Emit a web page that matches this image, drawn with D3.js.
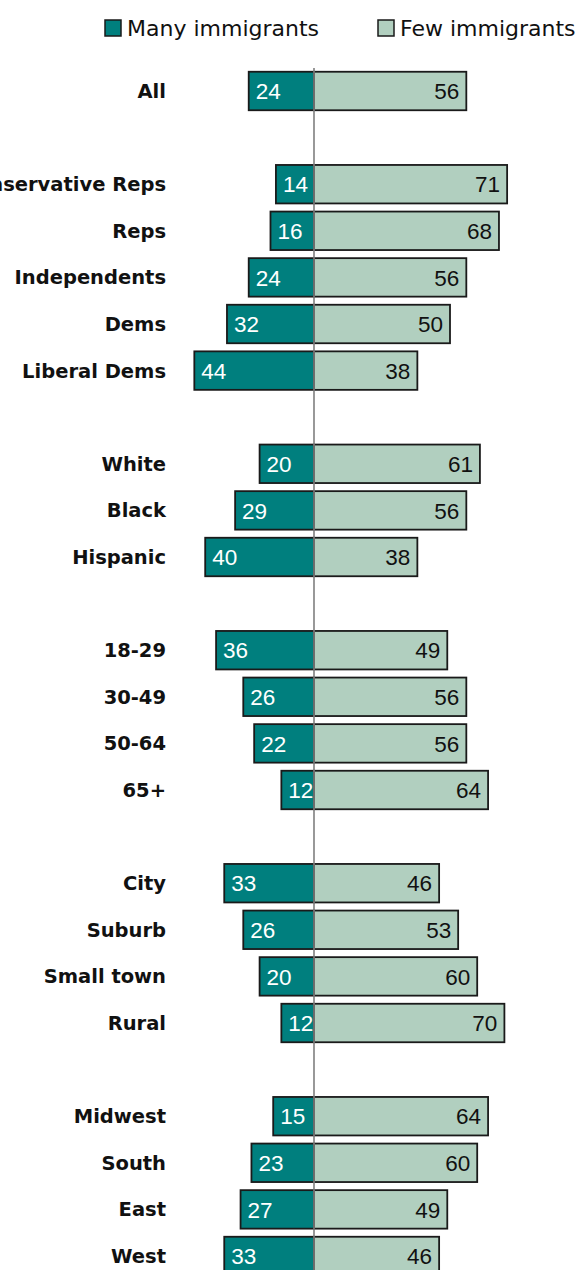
<!DOCTYPE html>
<html>
<head>
<meta charset="utf-8">
<script src="https://cdn.jsdelivr.net/npm/d3@7"></script>
<style>
html,body{margin:0;padding:0;background:#fff;overflow:hidden;}
svg{display:block;}
</style>
</head>
<body>
<svg id="chart" width="582" height="1270"></svg>
<script>
// Row slots, "" = blank spacer row between groups
const categories = ["All","",
  "Conservative Reps","Reps","Independents","Dems","Liberal Dems","",
  "White","Black","Hispanic","",
  "18-29","30-49","50-64","65+","",
  "City","Suburb","Small town","Rural","",
  "Midwest","South","East","West"];
const manyValues = [24,null,14,16,24,32,44,null,20,29,40,null,36,26,22,12,null,33,26,20,12,null,15,23,27,33];
const fewValues  = [56,null,71,68,56,50,38,null,61,56,38,null,49,56,56,64,null,46,53,60,70,null,64,60,49,46];
const seriesNames = ["Many immigrants","Few immigrants"];

const W = 582, H = 1270;
const colMany = "#007f7e", colFew = "#b1cfbf", stroke = "#1a1a1a";
const svg = d3.select("#chart");

const slots = categories.map((c,i)=>i);
const step = 46.6, top0 = 67.7;
const y = d3.scaleBand().domain(slots).range([top0, top0 + step*slots.length])
  .paddingInner(0.174).paddingOuter(0.087);
const x0 = 314, k = 2.72;
const x = d3.scaleLinear().domain([-50, 100]).range([x0 - 50*k, x0 + 100*k]);

const rows = categories.map((c,i)=>({i, c, many: manyValues[i], few: fewValues[i]})).filter(d=>d.c!=="");

const valFont = "'Liberation Sans', Arial, sans-serif";
const labFont = "'DejaVu Sans', sans-serif";

// category labels
svg.append("g").selectAll("text").data(rows).join("text")
  .attr("x", 166).attr("y", d=>y(d.i)+y.bandwidth()/2)
  .attr("dy","0.36em").attr("text-anchor","end")
  .attr("font-family", labFont).attr("font-weight","bold").attr("font-size", 19.5)
  .attr("fill","#111").text(d=>d.c);

// many bars
svg.append("g").selectAll("rect").data(rows).join("rect")
  .attr("x", d=>x(-d.many)).attr("y", d=>y(d.i))
  .attr("width", d=>x(0)-x(-d.many)).attr("height", y.bandwidth())
  .attr("fill", colMany).attr("stroke", stroke).attr("stroke-width", 1.8);
// few bars
svg.append("g").selectAll("rect").data(rows).join("rect")
  .attr("x", x(0)).attr("y", d=>y(d.i))
  .attr("width", d=>x(d.few)-x(0)).attr("height", y.bandwidth())
  .attr("fill", colFew).attr("stroke", stroke).attr("stroke-width", 1.8);

// center line
svg.append("line").attr("x1", x(0)).attr("x2", x(0)).attr("y1", 68).attr("y2", H)
  .attr("stroke","#7f7f7f").attr("stroke-width",1.6);

// values
svg.append("g").selectAll("text").data(rows).join("text")
  .attr("x", d=>x(-d.many)+7).attr("y", d=>y(d.i)+y.bandwidth()/2)
  .attr("dy","0.36em").attr("font-family", valFont).attr("font-size", 22.5)
  .attr("fill","#fff").text(d=>d.many);
svg.append("g").selectAll("text").data(rows).join("text")
  .attr("x", d=>x(d.few)-7).attr("y", d=>y(d.i)+y.bandwidth()/2)
  .attr("dy","0.36em").attr("text-anchor","end").attr("font-family", valFont).attr("font-size", 22.5)
  .attr("fill","#111").text(d=>d.few);

// legend
const legX = [105, 378];
const leg = svg.append("g").selectAll("g").data(seriesNames).join("g")
  .attr("transform",(d,i)=>`translate(${legX[i]},20)`);
leg.append("rect").attr("width",16).attr("height",16)
  .attr("fill",(d,i)=>i===0?colMany:colFew).attr("stroke",stroke).attr("stroke-width",1.5);
leg.append("text").attr("x",22).attr("y",15.5)
  .attr("font-family", labFont).attr("font-size",22).attr("fill","#111").text(d=>d);
</script>
</body>
</html>
